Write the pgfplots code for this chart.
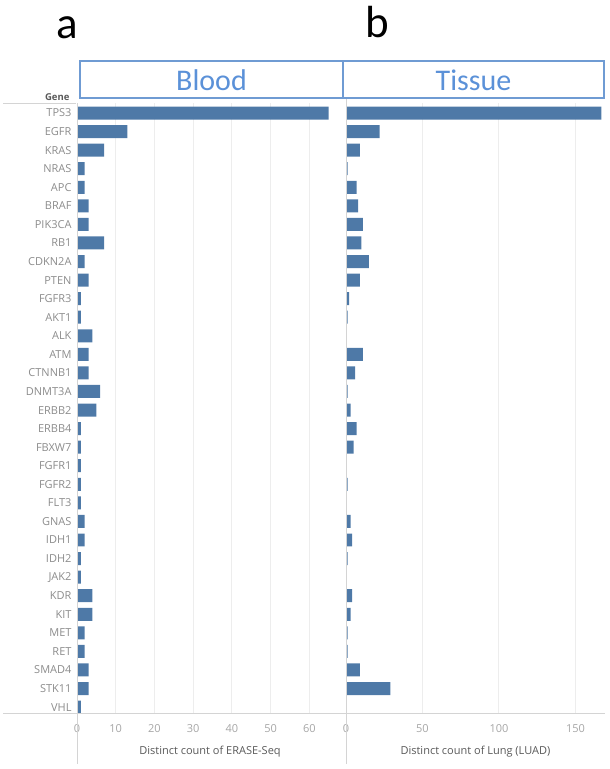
\documentclass[border=0pt]{standalone}
\usepackage{fontspec}
\setmainfont{Open Sans}
\newfontfamily\calibri{Carlito}
\usepackage{pgfplots}
\usepackage{pgfplotstable}
\pgfplotsset{compat=1.18}

\definecolor{barblue}{HTML}{4E79A7}
\definecolor{genegray}{HTML}{8C8C8C}
\definecolor{tickgray}{HTML}{A6A6A6}
\definecolor{titlegray}{HTML}{595959}
\definecolor{gridgray}{HTML}{EDEDED}
\definecolor{linegray}{HTML}{D4D4D4}
\definecolor{boxblue}{HTML}{6F9BD3}
\definecolor{headblue}{HTML}{5B91D8}

\pgfplotstableread{
idx gene blood tissue
0 TPS3 65 167
1 EGFR 13 22
2 KRAS 7 9
3 NRAS 2 1
4 APC 2 7
5 BRAF 3 8
6 PIK3CA 3 11
7 RB1 7 10
8 CDKN2A 2 15
9 PTEN 3 9
10 FGFR3 1 2
11 AKT1 1 1
12 ALK 4 0
13 ATM 3 11
14 CTNNB1 3 6
15 DNMT3A 6 1
16 ERBB2 5 3
17 ERBB4 1 7
18 FBXW7 1 5
19 FGFR1 1 0
20 FGFR2 1 1
21 FLT3 1 0
22 GNAS 2 3
23 IDH1 2 4
24 IDH2 1 1
25 JAK2 1 0
26 KDR 4 4
27 KIT 4 3
28 MET 2 1
29 RET 2 1
30 SMAD4 3 9
31 STK11 3 29
32 VHL 1 0
}\genes

\pgfplotsset{panel/.style={
  scale only axis, height=610pt, anchor=south west,
  xbar, bar width=0.7, y dir=reverse,
  ymin=-0.54, ymax=32.32, xmin=0,
  axis line style={draw=none}, major tick length=0,
  xmajorgrids, grid style={gridgray, line width=1pt},
  /pgf/number format/assume math mode=true,
  xticklabel style={font=\fontsize{11}{13}\selectfont, text=tickgray, anchor=center, yshift=-16pt},
  xlabel style={font=\fontsize{11}{13}\selectfont, text=titlegray, at={(axis description cs:0.5,0)}, anchor=center, yshift=-39pt},
  yticklabel style={font=\fontsize{11}{13}\selectfont, text=genegray, xshift=-2pt},
}}

\begin{document}
\begin{tikzpicture}
\useasboundingbox (0,0) rectangle (610pt,-769pt);

\begin{axis}[panel, at={(77pt,-713pt)}, width=266pt, xmax=68.7,
  xtick={0,10,...,60}, ytick={0,...,32},
  yticklabels from table={\genes}{gene},
  xlabel={Distinct count of ERASE-Seq}]
\addplot[fill=barblue, draw=none] table[x=blood, y=idx] {\genes};
\end{axis}

\begin{axis}[panel, at={(346pt,-713pt)}, width=259pt, xmax=169.3,
  xtick={0,50,100,150}, ytick=\empty,
  xlabel={Distinct count of Lung (LUAD)}]
\addplot[fill=barblue, draw=none] table[x=tissue, y=idx] {\genes};
\end{axis}

% frame lines
\draw[linegray, line width=1pt] (77pt,-103pt) -- (77pt,-764pt);
\draw[linegray, line width=1pt] (346pt,-98pt) -- (346pt,-764pt);
\draw[linegray, line width=1pt] (3pt,-713pt) -- (605pt,-713pt);
\draw[linegray, line width=1pt] (3pt,-103pt) -- (76pt,-103pt);

% header boxes
\draw[boxblue, line width=2pt] (80pt,-61pt) rectangle (604pt,-98pt);
\draw[boxblue, line width=2pt] (343pt,-61pt) -- (343pt,-98pt);
\node[headblue, font=\calibri\fontsize{30}{32}\selectfont] at (211.5pt,-80pt) {Blood};
\node[headblue, font=\calibri\fontsize{30}{32}\selectfont] at (473.5pt,-80pt) {Tissue};

\node[anchor=east, text=titlegray, font=\bfseries\fontsize{9.5}{11}\selectfont] at (73pt,-97pt) {Gene};

\node[anchor=base, inner sep=0pt, font=\calibri\fontsize{45}{48}\selectfont] at (67pt,-38pt) {a};
\node[anchor=base, inner sep=0pt, font=\calibri\fontsize{45}{48}\selectfont] at (377pt,-37pt) {b};
\end{tikzpicture}
\end{document}
